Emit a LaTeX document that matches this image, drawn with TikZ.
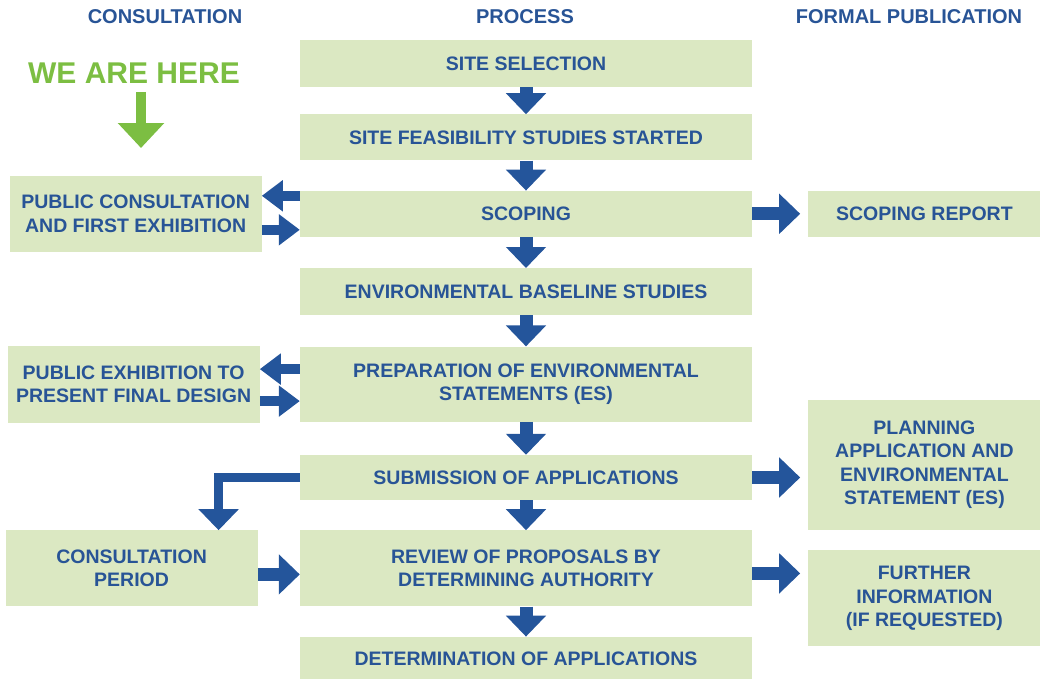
\documentclass[tikz,border=0pt]{standalone}
\usepackage{fontspec}
\setmainfont{Liberation Sans}
\usetikzlibrary{positioning,arrows.meta}
\definecolor{boxgreen}{RGB}{219,232,194}
\definecolor{textblue}{RGB}{40,84,150}
\definecolor{arrowblue}{RGB}{36,85,155}
\definecolor{heregreen}{RGB}{124,190,66}

\begin{document}
\begin{tikzpicture}[x=1pt, y=-1pt, node distance=30pt]
    % Define styles
    \tikzstyle{stage} = [rectangle, fill=boxgreen, text=textblue, font=\fontsize{19.5}{23.5}\selectfont\bfseries, align=center, inner sep=0pt]
    \tikzstyle{process} = [stage, minimum width=452pt]
    \tikzstyle{consult} = [stage, minimum width=252pt]
    \tikzstyle{publish} = [stage, minimum width=232pt]
    \tikzstyle{heading} = [text=textblue, font=\fontsize{20}{24}\selectfont\bfseries]
    \tikzstyle{bigarrow} = [color=arrowblue, line width=13pt, -{Triangle[width=39pt, length=21pt]}]
    \tikzstyle{smallarrow} = [color=arrowblue, line width=10pt, -{Triangle[width=30pt, length=21pt]}]
    \tikzstyle{herearrow} = [color=heregreen, line width=10pt, -{Triangle[width=45pt, length=25pt]}]

    \useasboundingbox (0,0) rectangle (1045,678);

    % Column headings
    \node [heading] (consultation) at (165,17) {CONSULTATION};
    \node [heading] (process) at (525,17) {PROCESS};
    \node [heading] (formal) at (909,17) {FORMAL PUBLICATION};
    \node [text=heregreen, font=\fontsize{30}{36}\selectfont\bfseries] (here) at (134,73) {WE ARE HERE};
    \coordinate (herepoint) at (141,148);

    % Main flow components
    \node [process, minimum height=47pt] (site) at (526,63.5) {SITE SELECTION};
    \node [process, minimum height=46pt, below=27pt of site] (feasibility) {SITE FEASIBILITY STUDIES STARTED};
    \node [process, minimum height=46pt, below=of feasibility] (scoping) {SCOPING};
    \node [process, minimum height=47pt, below=31pt of scoping] (baseline) {ENVIRONMENTAL BASELINE STUDIES};
    \node [process, minimum height=75pt, below=31pt of baseline] (statements) {PREPARATION OF ENVIRONMENTAL\\STATEMENTS (ES)};
    \node [process, minimum height=45pt, below=33pt of statements] (submission) {SUBMISSION OF APPLICATIONS};
    \node [process, minimum height=76pt, below=of submission] (review) {REVIEW OF PROPOSALS BY\\DETERMINING AUTHORITY};
    \node [process, minimum height=44pt, below=of review] (determination) {DETERMINATION OF APPLICATIONS};

    % Main flow arrows
    \draw [bigarrow] (site) -- (feasibility);
    \draw [bigarrow] (feasibility) -- (scoping);
    \draw [bigarrow] (scoping) -- (baseline);
    \draw [bigarrow] (baseline) -- (statements);
    \draw [bigarrow] (statements) -- (submission);
    \draw [bigarrow] (submission) -- (review);
    \draw [bigarrow] (review) -- (determination);

    % Side components
    \node [consult, minimum height=76pt, left=38pt of scoping] (publicconsult) {PUBLIC CONSULTATION\\AND FIRST EXHIBITION};
    \node [consult, minimum height=77pt, left=40pt of statements] (exhibition) {PUBLIC EXHIBITION TO\\PRESENT FINAL DESIGN};
    \node [consult, minimum height=76pt, left=42pt of review] (period) {CONSULTATION\\PERIOD};
    \node [publish, minimum height=46pt, right=56pt of scoping] (report) {SCOPING REPORT};
    \node [publish, minimum height=130pt, right=56pt of submission, yshift=13pt] (planning) {PLANNING\\APPLICATION AND\\ENVIRONMENTAL\\STATEMENT (ES)};
    \node [publish, minimum height=96pt, right=56pt of review, yshift=-30pt] (further) {FURTHER\\INFORMATION\\(IF REQUESTED)};

    % Side arrows
    \draw [herearrow, shorten <=5pt] (here.south -| herepoint) -- (herepoint);
    \draw [smallarrow] ([yshift=18pt]scoping.west) -- ([yshift=18pt]scoping.west -| publicconsult.east);
    \draw [smallarrow] ([yshift=-16pt]publicconsult.east) -- ([yshift=-16pt]publicconsult.east -| scoping.west);
    \draw [smallarrow] ([yshift=15pt]statements.west) -- ([yshift=15pt]statements.west -| exhibition.east);
    \draw [smallarrow] ([yshift=-17pt]exhibition.east) -- ([yshift=-17pt]exhibition.east -| statements.west);
    \draw [bigarrow, line width=9pt] (submission.west) -| ([xshift=87pt]period.north);
    \draw [bigarrow] ([yshift=-6pt]period.east) -- ([yshift=-6pt]period.east -| review.west);
    \draw [bigarrow, shorten >=8pt] (scoping) -- (report);
    \draw [bigarrow, shorten >=8pt] (submission) -- (submission -| planning.west);
    \draw [bigarrow, shorten >=8pt] ([yshift=-5pt]review.east) -- ([yshift=-5pt]review.east -| further.west);
\end{tikzpicture}
\end{document}
